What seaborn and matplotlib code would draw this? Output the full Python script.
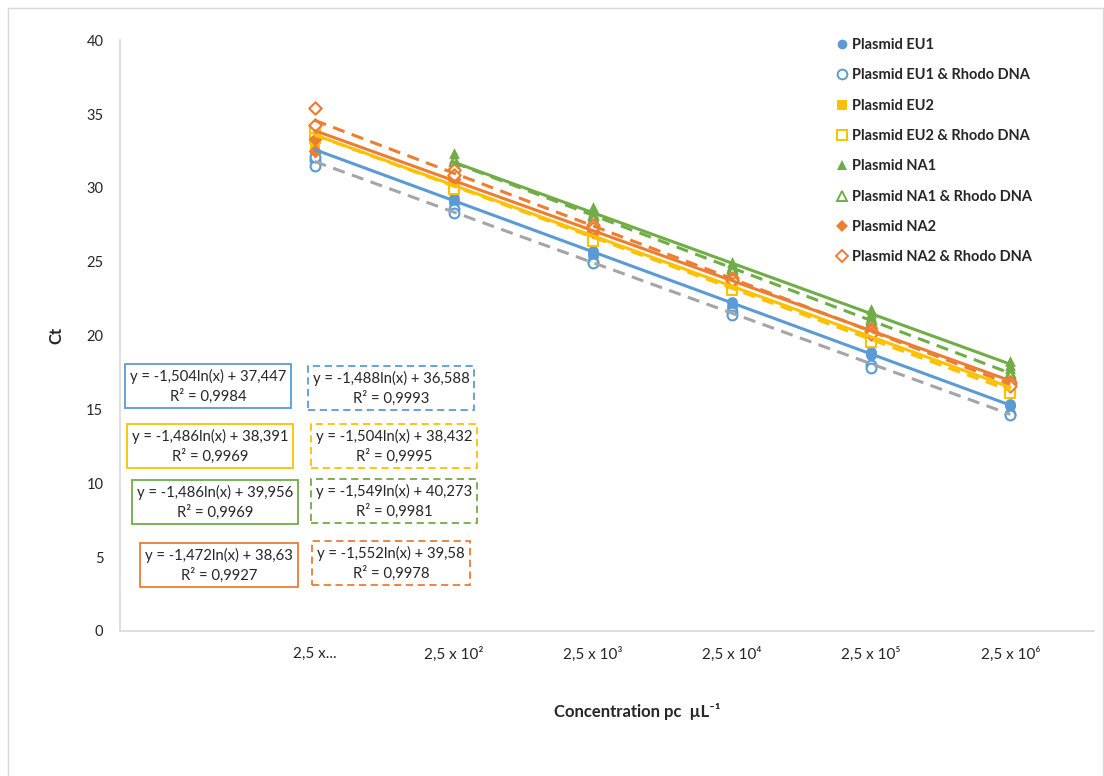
import pandas as pd
import matplotlib.pyplot as plt
import seaborn as sns
import numpy as np
from matplotlib.lines import Line2D
from matplotlib.patches import Rectangle

# concentrations (pc/uL) and their labels
conc = [25, 250, 2500, 25000, 250000, 2500000]
conc_labels = ['2,5 x...', '2,5 x 10²', '2,5 x 10³', '2,5 x 10⁴', '2,5 x 10⁵', '2,5 x 10⁶']

# Ct replicates per concentration (None = no data)
eu1 = [[33.2, 32.4, 32.0], [29.3, 29.0, 29.1], [25.7, 25.4, 25.6], [22.3, 22.0, 21.8], [18.9, 18.8, 18.7], [15.4, 15.3, 15.2]]
eu1_rh = [[31.9, 31.5, 32.1], [28.6, 28.3], [25.0, 24.9], [21.6, 21.4], [18.0, 17.8], [14.7, 14.6]]
eu2 = [[34.0, 33.2, 32.7], [30.6, 30.0, 30.2], [27.0, 26.5, 26.8], [23.4, 23.1, 23.3], [19.9, 19.6, 19.8], [16.6, 16.2, 16.4]]
eu2_rh = [[33.8, 33.4], [30.2, 29.9], [26.7, 26.4], [23.3, 23.1], [19.8, 19.6], [16.3, 16.1]]
na1 = [None, [32.4, 32.0, 31.8], [28.7, 28.4, 28.1], [25.0, 24.8, 24.7], [21.8, 21.5, 21.3], [18.3, 18.0, 17.8]]
na1_rh = [None, [31.8, 31.5], [28.2, 27.9], [24.6, 24.4], [21.1, 20.9], [17.5, 17.3]]
na2 = [[34.3, 33.3, 32.5], [31.3, 30.9, 30.6], [27.4, 27.1, 27.0], [23.9, 23.7], [20.5, 20.3], [16.9, 16.7]]
na2_rh = [[35.4, 34.3], [31.2, 30.9], [27.5, 27.3], [23.9, 23.8], [20.3, 20.1], [16.8, 16.6]]

names = ['Plasmid EU1', 'Plasmid EU1 & Rhodo DNA', 'Plasmid EU2', 'Plasmid EU2 & Rhodo DNA',
         'Plasmid NA1', 'Plasmid NA1 & Rhodo DNA', 'Plasmid NA2', 'Plasmid NA2 & Rhodo DNA']
series = [eu1, eu1_rh, eu2, eu2_rh, na1, na1_rh, na2, na2_rh]

# log trendlines y = a ln(x) + b
slopes = [-1.504, -1.488, -1.486, -1.504, -1.486, -1.549, -1.472, -1.552]
intercepts = [37.447, 36.588, 38.391, 38.432, 39.956, 40.273, 38.63, 39.58]
r2 = [0.9984, 0.9993, 0.9969, 0.9995, 0.9969, 0.9981, 0.9927, 0.9978]

blue, gray, yellow, green, orange = '#5B9BD5', '#A5A5A5', '#FFC000', '#70AD47', '#ED7D31'
colors = [blue, blue, yellow, yellow, green, green, orange, orange]
line_colors = [blue, gray, yellow, yellow, green, green, orange, orange]
markers = ['o', 'o', 's', 's', '^', '^', 'D', 'D']
filled = [True, False] * 4

rows = []
for name, s in zip(names, series):
    for c, reps in zip(conc, s):
        if reps is None:
            continue
        for v in reps:
            rows.append((name, c, v))
df = pd.DataFrame(rows, columns=['series', 'conc', 'ct'])

sns.set_style('white')
plt.rcParams['font.family'] = ['Lato', 'DejaVu Sans']

fig = plt.figure(figsize=(11.04, 7.76), dpi=100)
ax = fig.add_axes([0.1087, 0.187, 0.8823, 0.761])

for i, name in enumerate(names):
    d = df[df.series == name]
    if filled[i]:
        sns.scatterplot(data=d, x='conc', y='ct', ax=ax, marker=markers[i],
                        s=60 if markers[i] != 'D' else 50,
                        color=colors[i], edgecolor=colors[i], linewidth=0, zorder=3)
    else:
        ax.scatter(d.conc, d.ct, marker=markers[i], s=50 if markers[i] != 'D' else 40,
                   facecolors='white', edgecolors=colors[i], linewidths=1.5, zorder=3)
    xs = np.logspace(np.log10(d.conc.min()), np.log10(d.conc.max()), 60)
    ax.plot(xs, slopes[i] * np.log(xs) + intercepts[i], color=line_colors[i], lw=2.2,
            ls='-' if filled[i] else (0, (4, 2.5)), zorder=4)

ax.set_xscale('log')
ax.set_xlim(1, 1e7)
ax.set_ylim(0, 40)
ax.set_xticks(conc)
ax.set_xticklabels(conc_labels)
ax.minorticks_off()
ax.set_yticks(range(0, 41, 5))
ax.tick_params(axis='x', direction='inout', length=7, color='#BFBFBF', labelsize=11, pad=8)
ax.tick_params(axis='y', length=0, labelsize=10.5, pad=12)
for sp in ['top', 'right']:
    ax.spines[sp].set_visible(False)
for sp in ['left', 'bottom']:
    ax.spines[sp].set_color('#D9D9D9')
    ax.spines[sp].set_linewidth(1.2)
ax.set_xlabel('Concentration pc  µL⁻¹', fontsize=12, fontweight='bold')
ax.xaxis.set_label_coords(0.531, -0.122)
ax.set_ylabel('Ct', fontsize=12, fontweight='bold', labelpad=16)

handles = []
for i, name in enumerate(names):
    handles.append(Line2D([], [], ls='none', marker=markers[i], markersize=7 if markers[i] != 'D' else 6,
                          markerfacecolor=colors[i] if filled[i] else 'white',
                          markeredgecolor=colors[i], markeredgewidth=0 if filled[i] else 1.4))
leg = fig.legend(handles, names, loc='upper left', bbox_to_anchor=(836 / 1104, 1 - 38 / 776),
                 frameon=False, handlelength=0.8, handletextpad=0.3, labelspacing=1.12,
                 prop={'weight': 'bold', 'size': 10.5}, borderaxespad=0, borderpad=0)

# equation boxes (centres in pixels)
box_pos = [(208, 386), (391, 388), (210, 446), (394, 446), (215, 502), (394, 501), (219, 565), (391, 563)]
for i in range(8):
    txt = f'y = {slopes[i]:g}ln(x) + {intercepts[i]:g}'.replace('.', ',') + \
          '\n' + f'R² = {r2[i]:g}'.replace('.', ',')
    x, y = box_pos[i]
    fig.text(x / 1104, 1 - y / 776, txt, ha='center', va='center', fontsize=10.7,
             linespacing=1.4,
             bbox=dict(boxstyle='square,pad=0.32', facecolor='white', edgecolor=colors[i],
                       linewidth=1.3, linestyle='-' if filled[i] else (0, (4, 2.5))))

fig.patches.append(Rectangle((8 / 1104, -0.01), 1 - 9 / 1104, 1.01 - 8 / 776, transform=fig.transFigure,
                             fill=False, edgecolor='#D9D9D9', linewidth=1))

fig.savefig('out.png', dpi=100)
